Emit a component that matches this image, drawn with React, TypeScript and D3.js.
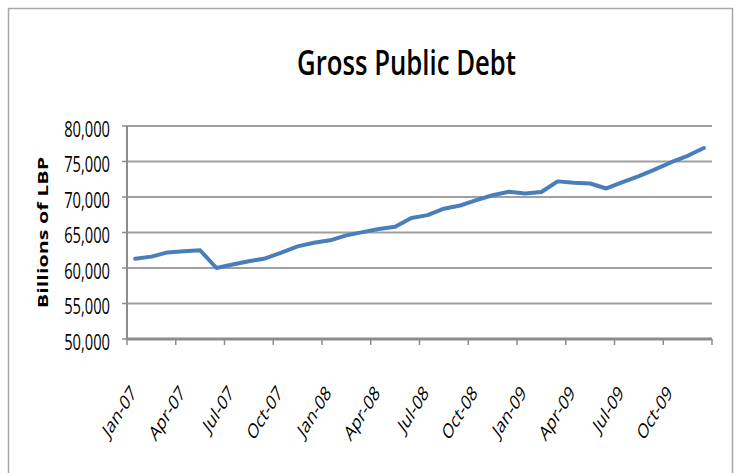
import React from "react";
import * as d3 from "d3";

const months = [
  "Jan-07","Feb-07","Mar-07","Apr-07","May-07","Jun-07","Jul-07","Aug-07","Sep-07","Oct-07","Nov-07","Dec-07",
  "Jan-08","Feb-08","Mar-08","Apr-08","May-08","Jun-08","Jul-08","Aug-08","Sep-08","Oct-08","Nov-08","Dec-08",
  "Jan-09","Feb-09","Mar-09","Apr-09","May-09","Jun-09","Jul-09","Aug-09","Sep-09","Oct-09","Nov-09","Dec-09",
];
const debt = [
  61300, 61600, 62200, 62350, 62500, 60000, 60500, 60950, 61350, 62150, 63050, 63550,
  63900, 64600, 65050, 65500, 65800, 67050, 67450, 68350, 68800, 69550, 70250, 70750,
  70500, 70700, 72200, 72000, 71900, 71200, 72100, 72950, 73900, 74900, 75800, 76900,
];
const yTicks = [50000, 55000, 60000, 65000, 70000, 75000, 80000];
const xTickLabels = ["Jan-07","Apr-07","Jul-07","Oct-07","Jan-08","Apr-08","Jul-08","Oct-08","Jan-09","Apr-09","Jul-09","Oct-09"];
const title = "Gross Public Debt";
const yTitle = "Billions of LBP";

const W = 734, H = 473;
const PL = 127, PR = 712, PT = 126, PB = 339;
const SY = 1.43;
const FONT = "'Open Sans', 'Noto Sans', sans-serif";

export default function App() {
  const x = d3.scaleBand<string>().domain(months).range([PL, PR]);
  const y = d3.scaleLinear().domain([50000, 80000]).range([PB, PT]);
  const cx = (m: string) => (x(m) as number) + x.bandwidth() / 2;
  const line = d3.line<number>().x((_, i) => cx(months[i])).y((d) => y(d));
  const fmt = d3.format(",");
  const tickXs = d3.range(0, months.length + 1, 3).map((i) => PL + i * x.bandwidth());

  return (
    <svg width={W} height={H} style={{ position: "absolute", left: 0, top: 0, background: "#fff" }}>
      <rect x={8.5} y={8.5} width={724} height={480} fill="#fff" stroke="#a8a8a8" strokeWidth={1.5} />
      <text
        transform={`translate(${(PL + PR) / 2 - 13},75) scale(1,${SY})`}
        textAnchor="middle"
        fontFamily={FONT}
        fontSize={24}
        fontWeight={600}
        textLength={219}
        lengthAdjust="spacingAndGlyphs"
        fill="#000"
      >
        {title}
      </text>
      {yTicks.map((t) => (
        <line key={"g" + t} x1={PL} x2={PR} y1={y(t)} y2={y(t)} stroke="#a0a0a0" strokeWidth={2} />
      ))}
      {yTicks.map((t) => (
        <line key={"yt" + t} x1={PL - 5} x2={PL} y1={y(t)} y2={y(t)} stroke="#8c8c8c" strokeWidth={1.5} />
      ))}
      <line x1={PL} x2={PL} y1={PT} y2={PB} stroke="#8c8c8c" strokeWidth={2} />
      <line x1={PL} x2={PR} y1={PB} y2={PB} stroke="#8c8c8c" strokeWidth={3} />
      {tickXs.map((tx, i) => (
        <line key={"xt" + i} x1={tx} x2={tx} y1={PB} y2={PB + 6} stroke="#8c8c8c" strokeWidth={1.5} />
      ))}
      {yTicks.map((t) => (
        <text
          key={"yl" + t}
          transform={`translate(110,${y(t) + 10.5}) scale(1,${SY})`}
          textAnchor="end"
          fontFamily={FONT}
          fontSize={14.7}
          fill="#000"
        >
          {fmt(t)}
        </text>
      ))}
      {xTickLabels.map((m) => (
        <text
          key={"xl" + m}
          transform={`translate(${cx(m) + 2},394) scale(1,${SY}) rotate(-48)`}
          textAnchor="end"
          fontFamily={FONT}
          fontSize={14.5}
          fill="#000"
        >
          {m}
        </text>
      ))}
      <text
        transform={`translate(48,${(PT + PB) / 2}) rotate(-90) scale(${SY},1)`}
        textAnchor="middle"
        fontFamily={FONT}
        fontSize={15}
        fontWeight={700}
        fill="#000"
      >
        {yTitle}
      </text>
      <path d={line(debt) || ""} fill="none" stroke="#4a7ebb" strokeWidth={4} strokeLinejoin="round" strokeLinecap="round" />
    </svg>
  );
}
